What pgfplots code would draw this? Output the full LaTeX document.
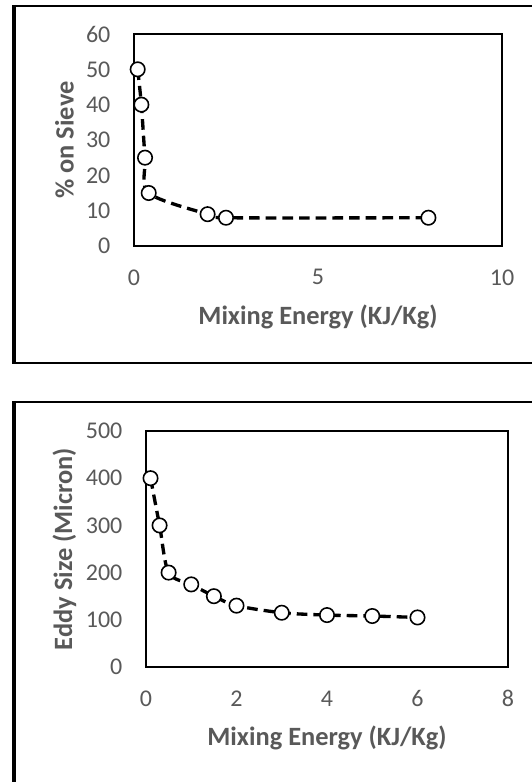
\documentclass[border=0pt]{standalone}
\usepackage{fontspec}
\setmainfont{Carlito}
\usepackage{pgfplots}
\pgfplotsset{compat=1.18}
\definecolor{tickgray}{HTML}{595959}
\pgfplotsset{
  myaxis/.style={
    scale only axis,
    clip=false,
    axis line style={black, line width=1pt},
    major tick length=0pt,
    tick style={draw=none},
    /pgf/number format/assume math mode=true,
    ticklabel style={font=\fontsize{18}{21}\selectfont, text=tickgray},
    xticklabel style={anchor=center, yshift=-23.5pt},
    yticklabel style={anchor=east, inner sep=0pt, xshift=-17.5pt},
    label style={font=\fontsize{19.8}{23}\selectfont\bfseries, text=tickgray},
  },
  myline/.style={
    black, line width=2.5pt, dash pattern=on 8pt off 4.5pt, smooth,
    mark=*, mark size=5.4pt,
    mark options={solid, fill=white, draw=black, line width=1.2pt},
  },
}
\begin{document}
\begin{tikzpicture}
\useasboundingbox (0,0) rectangle (399pt,586.5pt);
\fill[white] (0,0) rectangle (399pt,586.5pt);
% frames
\draw[line width=1.5pt] (9pt,582pt) -- (410pt,582pt);
\draw[line width=1.5pt] (9pt,314.25pt) -- (410pt,314.25pt);
\draw[line width=3pt] (10.5pt,582.75pt) -- (10.5pt,313.5pt);
\draw[line width=1.5pt] (9pt,285pt) -- (410pt,285pt);
\draw[line width=3pt] (10.5pt,285.75pt) -- (10.5pt,-10pt);

\begin{axis}[myaxis,
  at={(100.5pt,402pt)}, anchor=south west,
  width=276pt, height=159pt,
  xmin=0, xmax=10, xtick={0,5,10},
  ymin=0, ymax=60, ytick={0,10,...,60},
  xlabel={Mixing Energy (KJ/Kg)},
  ylabel={\% on Sieve},
  xlabel style={at={(axis description cs:0.5,-0.3335)}, anchor=center},
  ylabel style={at={(axis description cs:-0.1889,0.5)}, anchor=center},
]
\addplot[myline] coordinates {
  (0.1,50) (0.2,40) (0.3,25) (0.4,15) (2,9) (2.5,8) (8,8)
};
\end{axis}

\begin{axis}[myaxis,
  at={(109.5pt,86.25pt)}, anchor=south west,
  width=271.5pt, height=177pt,
  xmin=0, xmax=8, xtick={0,2,...,8},
  ymin=0, ymax=500, ytick={0,100,...,500},
  xlabel={Mixing Energy (KJ/Kg)},
  ylabel={Eddy Size (Micron)},
  xlabel style={at={(axis description cs:0.5,-0.3008)}, anchor=center},
  ylabel style={at={(axis description cs:-0.2251,0.5)}, anchor=center},
]
\addplot[myline] coordinates {
  (0.1,400) (0.3,300) (0.5,200) (1,175) (1.5,150) (2,130) (3,115) (4,110) (5,108) (6,105)
};
\end{axis}
\end{tikzpicture}
\end{document}
